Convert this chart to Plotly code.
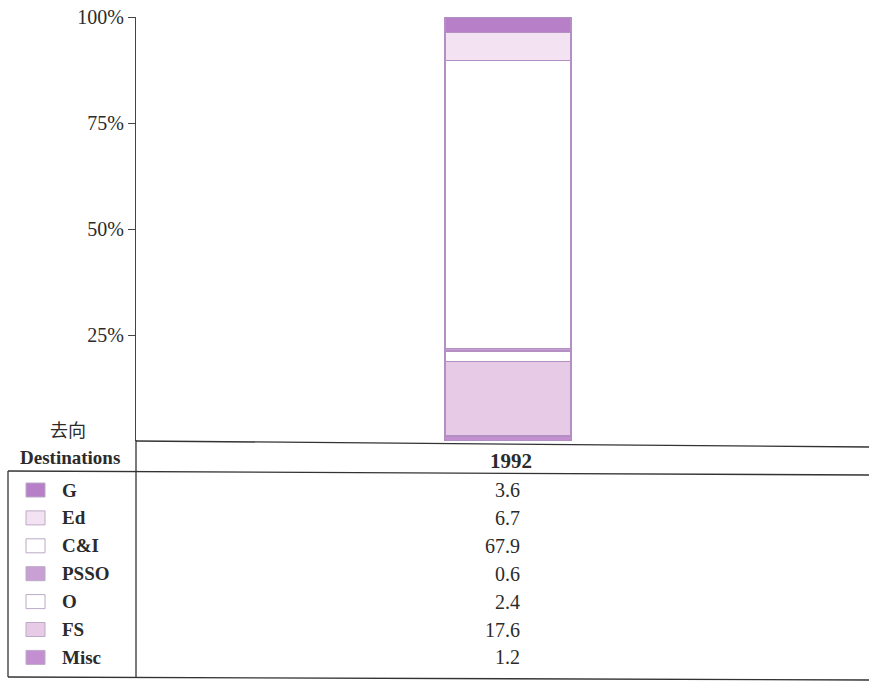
import plotly.graph_objects as go

# Destinations of the 1992 total, in percent (top of the stack first)
destinations = ["G", "Ed", "C&I", "PSSO", "O", "FS", "Misc"]
shares_1992 = [3.6, 6.7, 67.9, 0.6, 2.4, 17.6, 1.2]
year_label = "1992"
tick_values = [25, 50, 75, 100]
tick_labels = [f"{v}%" for v in tick_values]
fill_colors = ["#b67fc7", "#f3e3f2", "#ffffff", "#c9a0d4", "#ffffff", "#e7cbe6", "#c48fd0"]

W, H = 869, 682


def px(x):
    return x / W


def py(y):
    return 1 - y / H


SERIF = "Liberation Serif"
INK = "#2b2b2b"

fig = go.Figure()

# Stack from the bottom (Misc) to the top (G)
for name, val, col in reversed(list(zip(destinations, shares_1992, fill_colors))):
    fig.add_trace(go.Bar(
        x=[year_label], y=[val], name=name,
        marker=dict(color=col, line=dict(color="#b48fc4", width=1.3)),
        width=0.172, showlegend=False, hoverinfo="name+y",
    ))

fig.update_layout(
    width=W, height=H,
    margin=dict(l=0, r=0, t=0, b=0, pad=0, autoexpand=False),
    paper_bgcolor="white", plot_bgcolor="white",
    barmode="stack", showlegend=False,
    xaxis=dict(domain=[px(136), 1], range=[-0.5075, 0.4925], type="category",
               automargin=False,
               showticklabels=False, showgrid=False, zeroline=False, showline=False,
               fixedrange=True),
    yaxis=dict(domain=[py(441), py(17)], range=[0, 100], automargin=False,
               tickmode="array", tickvals=tick_values, ticktext=tick_labels,
               ticks="outside", ticklen=7, tickwidth=1, tickcolor="#444",
               showline=True, linecolor="#444", linewidth=1.2,
               showgrid=False, zeroline=False,
               tickfont=dict(family=SERIF, size=20, color=INK)),
)

shapes = []
line_style = dict(color="#333", width=1.3)
# vertical rule continuing the axis through the table
shapes.append(dict(type="line", xref="paper", yref="paper",
                   x0=px(136), x1=px(136), y0=py(440), y1=py(678), line=line_style))
# baseline / table header top
shapes.append(dict(type="line", xref="paper", yref="paper",
                   x0=px(136), x1=1, y0=py(441), y1=py(447), line=line_style))
# header bottom / legend box top
shapes.append(dict(type="line", xref="paper", yref="paper",
                   x0=px(8), x1=1, y0=py(471), y1=py(475), line=line_style))
# table bottom
shapes.append(dict(type="line", xref="paper", yref="paper",
                   x0=px(8), x1=1, y0=py(677), y1=py(680), line=line_style))
# legend box left edge
shapes.append(dict(type="line", xref="paper", yref="paper",
                   x0=px(8), x1=px(8), y0=py(471), y1=py(677), line=line_style))

annotations = [
    dict(text="去向", x=px(68), y=py(429), xref="paper", yref="paper",
         showarrow=False, xanchor="center", yanchor="middle",
         font=dict(family="Noto Sans CJK SC", size=18, color=INK)),
    dict(text="<b>Destinations</b>", x=px(70), y=py(457), xref="paper", yref="paper",
         showarrow=False, xanchor="center", yanchor="middle",
         font=dict(family=SERIF, size=19, color=INK)),
    dict(text=f"<b>{year_label}</b>", x=px(511), y=py(461), xref="paper", yref="paper",
         showarrow=False, xanchor="center", yanchor="middle",
         font=dict(family=SERIF, size=21, color=INK)),
]

row0, step = 490, 27.9
for i, (name, val, col) in enumerate(zip(destinations, shares_1992, fill_colors)):
    yc = row0 + i * step
    shapes.append(dict(type="rect", xref="paper", yref="paper",
                       x0=px(26), x1=px(45), y0=py(yc - 7), y1=py(yc + 7),
                       fillcolor=col, line=dict(color="#bca9c6", width=1)))
    annotations.append(dict(text=f"<b>{name}</b>", x=px(60), y=py(yc), xref="paper", yref="paper",
                            showarrow=False, xanchor="left", yanchor="middle",
                            font=dict(family=SERIF, size=19, color=INK)))
    annotations.append(dict(text=f"{val:.1f}", x=px(522), y=py(yc), xref="paper", yref="paper",
                            showarrow=False, xanchor="right", yanchor="middle",
                            font=dict(family=SERIF, size=20, color=INK)))

fig.update_layout(shapes=shapes, annotations=annotations)
fig.write_html("out.html")
